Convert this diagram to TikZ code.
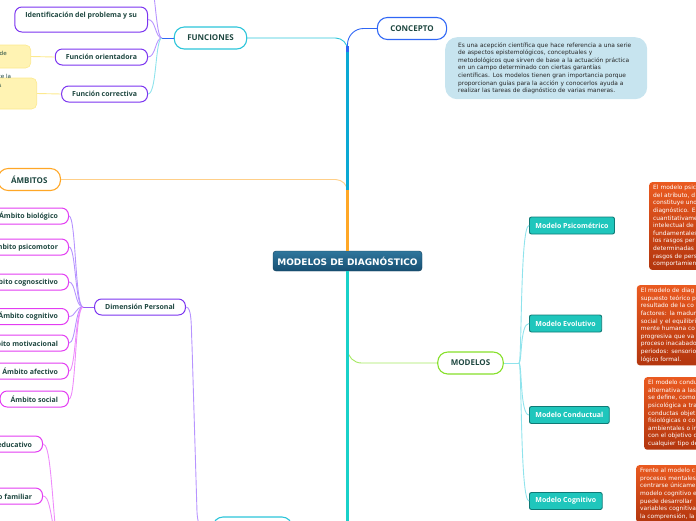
\documentclass[tikz,border=0pt]{standalone}
\usepackage{fontspec}
\setmainfont{Open Sans}
\newfontfamily\notefont{DejaVu Sans}
\usepackage{tikz}
\definecolor{mapInk}{HTML}{1E4740}
\definecolor{mapBlue}{HTML}{2F66F5}
\definecolor{mapCyan}{HTML}{2CC5DA}
\definecolor{mapOrange}{HTML}{FFA726}
\definecolor{mapGreen}{HTML}{86E02A}
\definecolor{mapPurple}{HTML}{7B34F0}
\definecolor{mapMagenta}{HTML}{E33CF2}
\definecolor{mapTeal}{HTML}{1FC6BC}
\definecolor{mapTealDark}{HTML}{0F7A76}
\definecolor{mapNavyTop}{HTML}{2F769C}
\definecolor{mapNavyBot}{HTML}{174F72}
\definecolor{mapRustTop}{HTML}{EA5A20}
\definecolor{mapRustBot}{HTML}{B3360E}
\definecolor{mapSky}{HTML}{C7E4EF}
\definecolor{mapCream}{HTML}{FFF3B3}
\definecolor{mapCreamLine}{HTML}{FCE98E}
\definecolor{mapLavender}{HTML}{B794FF}
\definecolor{mapPink}{HTML}{EE8CFB}
\definecolor{mapAqua}{HTML}{8FE3EC}
\definecolor{mapStem}{HTML}{0AA9D4}
\tikzset{
  root/.style={rounded corners=3pt, draw=mapNavyBot!80!black, top color=mapNavyTop,
    bottom color=mapNavyBot, text=white, font=\notefont\bfseries\fontsize{9}{11}\selectfont,
    minimum width=149pt, minimum height=20pt, inner sep=0pt},
  topic/.style={rounded corners=10pt, draw, line width=1.1pt, fill=white, text=mapInk,
    font=\bfseries\fontsize{8}{10}\selectfont, inner xsep=13pt, inner ysep=0pt, minimum height=22pt},
  sub/.style={rounded corners=7pt, draw, line width=1pt, fill=white, text=mapInk,
    font=\bfseries\fontsize{7}{9}\selectfont, inner xsep=10.5pt, inner ysep=0pt, minimum height=16pt},
  model/.style={rounded corners=2pt, draw=mapTealDark, line width=0.9pt, fill=mapTeal, text=white,
    font=\bfseries\fontsize{7}{9}\selectfont, inner xsep=6pt, inner ysep=0pt, minimum height=17pt},
  sky/.style={rounded corners=12pt, fill=mapSky, text=black!85, font=\notefont\fontsize{5.9}{7.6}\selectfont,
    align=left, text width=176pt, inner xsep=13pt, inner ysep=0pt, minimum height=62pt, anchor=north west},
  rust/.style={rounded corners=3pt, top color=mapRustTop, bottom color=mapRustBot, text=white,
    font=\notefont\fontsize{5.9}{7.6}\selectfont, align=left, text width=100pt,
    inner xsep=4pt, inner ysep=3pt, anchor=north west},
  cream/.style={rounded corners=5pt, draw=mapCreamLine, fill=mapCream, line width=0.6pt},
  snip/.style={font=\notefont\fontsize{5.6}{9}\selectfont, text=mapInk, inner sep=0pt, align=left},
  link/.style={line width=0.9pt},
  trunk/.style={line width=3pt},
}
\begin{document}
\begin{tikzpicture}[x=1pt, y=-1pt]
  \useasboundingbox (0,0) rectangle (696,520);
  \clip (0,0) rectangle (696,520);

  % notes
  \node[sky] (conceptoNote) at (445,37) {Es una acepción científica que hace referencia a una serie\\
    de aspectos epistemológicos, conceptuales y\\
    metodológicos que sirven de base a la actuación práctica\\
    en un campo determinado con ciertas garantías\\
    científicas. Los modelos tienen gran importancia porque\\
    proporcionan guías para la acción y conocerlos ayuda a\\
    realizar las tareas de diagnóstico de varias maneras.};
  \node[rust, minimum height=87pt] (psiNote) at (649,182) {El modelo psic\\del atributo, d\\constituye uno\\
    diagnóstico. E\\cuantitativame\\intelectual de\\fundamentales\\los rasgos per\\determinadas\\
    rasgos de pers\\comportamien};
  \node[rust, minimum height=77pt] (evoNote) at (636.7,285) {El modelo de diag\\supuesto teórico p\\
    resultado de la co\\factores: la madur\\social y el equilibri\\mente humana co\\progresiva que va\\
    proceso inacabado\\periodos: sensorio\\lógico formal.};
  \node[rust, minimum height=72pt] (conNote) at (644,377) {El modelo condu\\alternativa a las\\se define, como\\
    psicológica a tra\\conductas objet\\fisiológicas o co\\ambientales o in\\con el objetivo d\\cualquier tipo de};
  \node[rust] (cogNote) at (636,465) {Frente al modelo c\\procesos mentales\\centrarse únicame\\
    modelo cognitivo e\\puede desarrollar\\variables cognitiva\\la comprensión, la};

  % main topics
  \node[root] (root) at (347.5,261) {MODELOS DE DIAGNÓSTICO};
  \node[topic, draw=mapBlue] (concepto) at (412,28.5) {CONCEPTO};
  \node[topic, draw=mapCyan] (funciones) at (210.5,38) {FUNCIONES};
  \node[topic, draw=mapOrange, anchor=east] (ambitos) at (61,179.5) {ÁMBITOS};
  \node[topic, draw=mapGreen] (modelos) at (470.5,363) {MODELOS};
  \node[topic, draw=mapCyan, minimum width=79pt, minimum height=36pt] (dimensiones) at (252.5,535) {};

  % funciones
  \node[sub, draw=mapPurple, anchor=east, minimum height=25pt, text height=5pt, text depth=9pt]
    (identificacion) at (148,19.5) {Identificación del problema y su};
  \node[sub, draw=mapPurple, anchor=east] (orientadora) at (148,57) {Función orientadora};
  \node[sub, draw=mapPurple, anchor=east] (correctiva) at (148,94) {Función correctiva};
  \coordinate (funHub) at (162,38);
  \coordinate (funTop) at (148,-22);
  \node[cream, anchor=east, minimum width=50pt, minimum height=23pt] (orientaNote) at (31,56.5) {};
  \node[snip, anchor=base west] (orientaSnip) at (-0.5,55) {de};
  \node[cream, anchor=east, minimum width=55pt, minimum height=31pt] (correctNote) at (37,93.5) {};
  \node[snip, anchor=base west] (correctSnip) at (-1.5,87) {te la\\s};

  % dimension personal
  \node[sub, draw=mapPurple] (personal) at (140,307) {Dimensión Personal};
  \coordinate (perHub) at (83,307);
  \node[sub, draw=mapMagenta, anchor=east] (ambBiologico) at (69,216) {Ámbito biológico};
  \node[sub, draw=mapMagenta, anchor=east] (ambPsicomotor) at (69,247) {Ámbito psicomotor};
  \node[sub, draw=mapMagenta, anchor=east] (ambCognoscitivo) at (69,282) {Ámbito cognoscitivo};
  \node[sub, draw=mapMagenta, anchor=east] (ambCognitivo) at (69,316.5) {Ámbito cognitivo};
  \node[sub, draw=mapMagenta, anchor=east] (ambMotivacional) at (69,343) {Ámbito motivacional};
  \node[sub, draw=mapMagenta, anchor=east] (ambAfectivo) at (69,371) {Ámbito afectivo};
  \node[sub, draw=mapMagenta, anchor=east] (ambSocial) at (69,399) {Ámbito social};
  \node[sub, draw=mapMagenta, anchor=east] (ambEducativo) at (43,444) {Ámbito educativo};
  \node[sub, draw=mapMagenta, anchor=east] (ambFamiliar) at (43,496) {Ámbito familiar};
  \coordinate (socialHub) at (58,560);

  % modelos
  \node[model, anchor=west] (modPsicometrico) at (529,225.5) {Modelo Psicométrico};
  \node[model, anchor=west] (modEvolutivo) at (529,323.5) {Modelo Evolutivo};
  \node[model, anchor=west] (modConductual) at (529,415) {Modelo Conductual};
  \node[model, anchor=west] (modCognitivo) at (529,501) {Modelo Cognitivo};
  \coordinate (modHub) at (519,363);

  % trunk
  \draw[link, mapBlue, rounded corners=16pt] (root.north) |- (concepto.west);
  \draw[link, mapCyan, rounded corners=12pt] (root.north) |- (funciones.east);
  \draw[link, mapOrange!55, rounded corners=12pt] (root.north) |- (ambitos.east);
  \draw[link, mapGreen!75, rounded corners=14pt] (root.south) |- (modelos.west);
  \draw[link, mapCyan, rounded corners=10pt] (root.south) |- (dimensiones.east);
  \draw[trunk, mapBlue] (root.north) -- ++(0,-205);
  \draw[trunk, line width=2.4pt, mapStem] (root.north) -- ++(0,-199);
  \draw[trunk, mapOrange] (root.north) -- ++(0,-61);
  \draw[trunk, mapGreen] (root.south) -- ++(0,80);
  \draw[trunk, mapTeal!80!cyan] (root.south) -- ++(0,262);

  % funciones links
  \draw[link, mapBlue] (funciones.west) -- (funHub);
  \draw[link, mapLavender] (funHub) .. controls (155,38) and (156,-22) .. (funTop);
  \draw[link, mapLavender] (identificacion.east) .. controls (156,19.5) and (155,38) .. (funHub);
  \draw[link, mapLavender] (orientadora.east) .. controls (156,57) and (155,38) .. (funHub);
  \draw[link, mapAqua] (correctiva.east) .. controls (157,94) and (155,38) .. (funHub);
  \draw[link, mapCreamLine] (orientaNote.east) -- (orientadora.west);
  \draw[link, mapCreamLine] (correctNote.east) -- (correctiva.west);

  % personal links
  \draw[link, mapPurple!80] (personal.west) -- (perHub);
  \draw[link, mapLavender] (ambBiologico.east) .. controls (76,216) and (75,307) .. (perHub);
  \draw[link, mapLavender] (ambPsicomotor.east) .. controls (76,247) and (75,307) .. (perHub);
  \draw[link, mapLavender] (ambCognoscitivo.east) .. controls (76,282) and (75,307) .. (perHub);
  \draw[link, mapLavender] (ambCognitivo.east) .. controls (76,316.5) and (75,307) .. (perHub);
  \draw[link, mapLavender] (ambMotivacional.east) .. controls (76,343) and (75,307) .. (perHub);
  \draw[link, mapPink] (ambAfectivo.east) .. controls (76,371) and (75,307) .. (perHub);
  \draw[link, mapPink] (ambSocial.east) .. controls (76,399) and (75,307) .. (perHub);
  \draw[link, mapLavender] (personal.east) .. controls (192,307) and (191,325) .. (192,345)
    -- (197,512) .. controls (198,530) and (204,535) .. (dimensiones.west);
  \draw[link, mapPink] (ambEducativo.east) .. controls (50,444) and (51,480) .. (socialHub);
  \draw[link, mapPink] (ambFamiliar.east) .. controls (49,496) and (51,510) .. (socialHub);

  % modelos links
  \draw[link, mapAqua] (modelos.east) -- (modHub);
  \draw[link, mapAqua] (modHub) .. controls (522,363) and (520,225.5) .. (modPsicometrico.west);
  \draw[link, mapAqua] (modHub) .. controls (522,363) and (520,323.5) .. (modEvolutivo.west);
  \draw[link, mapAqua] (modHub) .. controls (522,363) and (520,415) .. (modConductual.west);
  \draw[link, mapAqua] (modHub) .. controls (522,363) and (520,501) .. (modCognitivo.west);
\end{tikzpicture}
\end{document}
